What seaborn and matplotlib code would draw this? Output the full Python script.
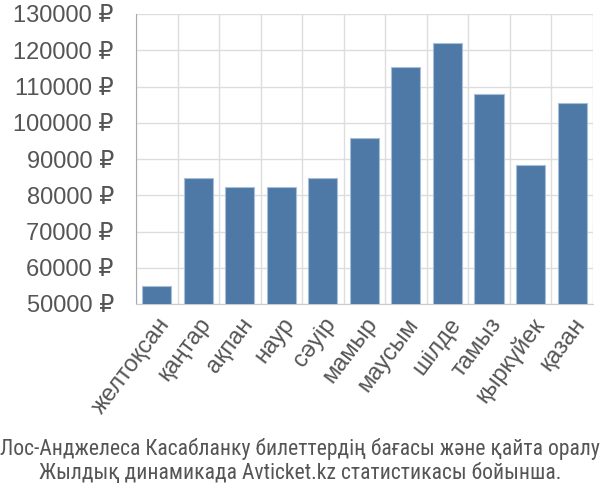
import numpy as np
import pandas as pd
import matplotlib
matplotlib.use("Agg")
import matplotlib.pyplot as plt
import seaborn as sns
from matplotlib.ticker import FixedLocator, FuncFormatter

# data
months = ["желтоқсан", "қаңтар", "ақпан", "наур", "сәуір", "мамыр",
          "маусым", "шілде", "тамыз", "қыркүйек", "қазан"]
prices = [54900, 84800, 82200, 82300, 84800, 95800,
          115300, 121900, 107900, 88400, 105400]
y_ticks = [50000, 60000, 70000, 80000, 90000, 100000, 110000, 120000, 130000]
caption = ("Лос-Анджелеса Касабланку билеттердің бағасы және қайта оралу\n"
           "Жылдық динамикада Avticket.kz статистикасы бойынша.")

sns.set_style("white")
plt.rcParams["font.family"] = ["Liberation Sans", "DejaVu Sans"]

GRID = "#dddddd"
TEXT = "#555555"

df = pd.DataFrame({"month": months, "price": prices})

fig = plt.figure(figsize=(6, 5), dpi=100)
ax = fig.add_axes([0.2267, 0.392, 0.7613, 0.58])

sns.barplot(data=df, x="month", y="price", color="#4e79a7", saturation=1,
            width=0.7, edgecolor="#a9bfd8", linewidth=0.8, ax=ax, zorder=3)

ax.set_ylim(50000, 130000)
ax.set_xlim(-0.5, len(months) - 0.5)
ax.set_yticks(y_ticks)
ax.yaxis.set_major_formatter(FuncFormatter(lambda v, p: f"{int(v)} ₽"))
ax.xaxis.set_minor_locator(FixedLocator(np.arange(-0.5, len(months), 1.0)))

ax.grid(axis="y", which="major", color=GRID, linewidth=1, zorder=0)
ax.grid(axis="x", which="minor", color=GRID, linewidth=1, zorder=0)
ax.set_axisbelow(True)

ax.tick_params(axis="y", which="major", length=15, width=1, color=GRID, pad=1,
               labelsize=17, labelcolor=TEXT)
ax.tick_params(axis="x", which="major", length=0, pad=7, labelsize=17, labelcolor=TEXT)
ax.tick_params(axis="x", which="minor", length=11.5, width=1, color=GRID)

for lab in ax.get_xticklabels():
    lab.set_rotation(53)
    lab.set_ha("right")
    lab.set_rotation_mode("anchor")

for side in ["top", "right"]:
    ax.spines[side].set_visible(False)
ax.spines["left"].set_color("#aaaaaa")
ax.spines["bottom"].set_color("#cccccc")
ax.set_xlabel("")
ax.set_ylabel("")

cap = fig.text(0.5, 0.078, caption, ha="center", va="center", fontsize=16, color=TEXT,
               linespacing=1.2,
               family=["Roboto Condensed", "Liberation Sans Narrow", "Liberation Sans", "DejaVu Sans"])

# shrink the caption if it is wider than the figure
renderer = fig.canvas.get_renderer()
w = cap.get_window_extent(renderer).width
if w > 598:
    cap.set_fontsize(16 * 598 / w)

fig.savefig("out.png", dpi=100)
